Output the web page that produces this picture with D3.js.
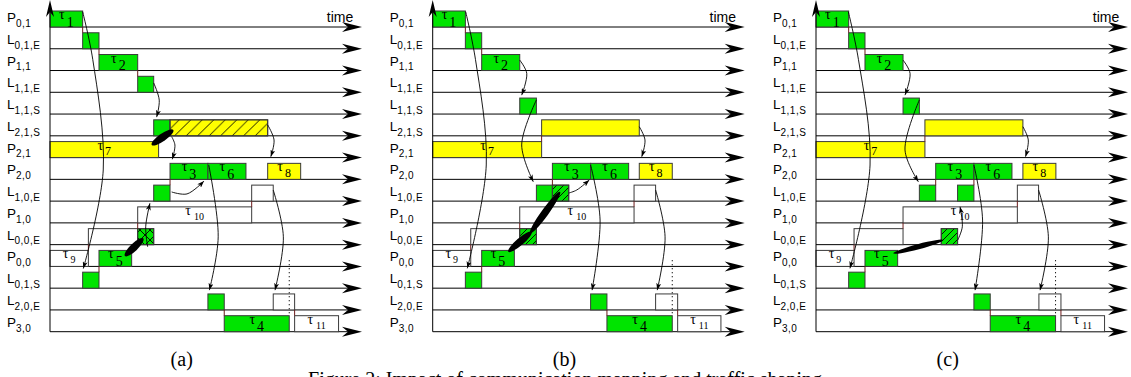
<!DOCTYPE html>
<html>
<head>
<meta charset="utf-8">
<script src="https://cdn.jsdelivr.net/npm/d3@7"></script>
<style>
  body { margin: 0; background: #fff; }
  svg { display: block; }
</style>
</head>
<body>
<svg id="chart" width="1131" height="377"></svg>
<script>
// row labels, top to bottom: [letter, subscript]
const rowLabels = [
  ["P", "0,1"], ["L", "0,1,E"], ["P", "1,1"], ["L", "1,1,E"], ["L", "1,1,S"],
  ["L", "2,1,S"], ["P", "2,1"], ["P", "2,0"], ["L", "1,0,E"], ["P", "1,0"],
  ["L", "0,0,E"], ["P", "0,0"], ["L", "0,1,S"], ["L", "2,0,E"], ["P", "3,0"]
];
const panelNames = ["(a)", "(b)", "(c)"];
const axisName = "time";
const caption = "Figure 2: Impact of communication mapping and traffic shaping";

// bars: [row, start, end, kind, task, hatch]   kind g = green, y = yellow, w = white
const barsA = [
  [0, 0, 2.0, "g", "1"], [1, 2.0, 3.0, "g"], [2, 3.0, 5.37, "g", "2"], [3, 5.37, 6.35, "g"],
  [5, 6.35, 7.35, "g"], [5, 7.35, 13.33, "y", null, "/"], [6, 0, 6.65, "y", "7"],
  [7, 7.35, 9.67, "g", "3"], [7, 9.67, 12.0, "g", "6"], [7, 13.33, 15.35, "y", "8"],
  [8, 6.35, 7.35, "g"], [8, 12.35, 13.67, "w"], [9, 5.37, 12.35, "w", "10"],
  [10, 2.35, 5.37, "w"], [10, 5.37, 6.35, "g", null, "x"],
  [11, 0, 2.35, "w", "9"], [11, 3.0, 5.0, "g", "5"], [12, 2.0, 3.0, "g"],
  [13, 9.67, 10.67, "g"], [13, 13.67, 14.98, "w"],
  [14, 10.67, 14.65, "g", "4"], [14, 14.98, 17.67, "w", "11"]
];
const barsB = [
  [0, 0, 2.0, "g", "1"], [1, 2.0, 3.0, "g"], [2, 3.0, 5.33, "g", "2"], [4, 5.33, 6.35, "g"],
  [5, 6.67, 12.65, "y"], [6, 0, 6.67, "y", "7"],
  [7, 7.33, 9.67, "g", "3"], [7, 9.67, 12.0, "g", "6"], [7, 12.65, 14.67, "y", "8"],
  [8, 6.35, 7.33, "g"], [8, 7.33, 8.33, "g", null, "/"], [8, 12.33, 13.65, "w"],
  [9, 5.33, 12.33, "w", "10"],
  [10, 2.33, 5.33, "w"], [10, 5.33, 6.35, "g", null, "/"],
  [11, 0, 2.33, "w", "9"], [11, 3.0, 5.0, "g", "5"], [12, 2.0, 3.0, "g"],
  [13, 9.67, 10.67, "g"], [13, 13.65, 15.0, "w"],
  [14, 10.67, 14.67, "g", "4"], [14, 15.0, 17.65, "w", "11"]
];
const barsC = [
  [0, 0, 2.0, "g", "1"], [1, 2.0, 3.0, "g"], [2, 3.0, 5.33, "g", "2"], [4, 5.33, 6.33, "g"],
  [5, 6.67, 12.67, "y"], [6, 0, 6.67, "y", "7"],
  [7, 7.33, 9.67, "g", "3"], [7, 9.67, 12.0, "g", "6"], [7, 12.67, 14.69, "y", "8"],
  [8, 6.33, 7.33, "g"], [8, 8.67, 9.67, "g"], [8, 12.33, 13.63, "w"],
  [9, 5.33, 12.33, "w", "10"],
  [10, 2.33, 5.33, "w"], [10, 7.67, 8.67, "g", null, "/"],
  [11, 0, 2.33, "w", "9"], [11, 3.0, 5.0, "g", "5"], [12, 2.0, 3.0, "g"],
  [13, 9.67, 10.67, "g"], [13, 13.65, 15.0, "w"],
  [14, 10.67, 14.67, "g", "4"], [14, 15.0, 17.67, "w", "11"]
];

// dependency arrows, points as [time, row]
const arrowsA = [
  [[2.0, -0.7], [2.62, 1.5], [3.26, 6.57], [2.04, 11.1]],
  [[6.35, 2.57], [6.69, 3.36], [6.53, 4.14]],
  [[13.33, 4.5], [13.72, 5.19], [13.52, 5.96]],
  [[7.45, 5.04], [7.65, 5.42], [7.49, 6.08]],
  [[7.45, 7.58], [8.39, 7.67], [9.43, 7.08]],
  [[5.98, 10.1], [5.86, 9.18], [6.12, 8.1]],
  [[9.72, 6.34], [10.3, 9.64], [9.76, 12.09]],
  [[13.67, 7.49], [14.29, 9.64], [13.78, 12.09]]
];
const arrowsB = [
  [[2.02, -0.7], [2.62, 1.5], [3.28, 6.34], [2.12, 11.09]],
  [[5.33, 1.52], [5.76, 2.13], [5.45, 3.13]],
  [[6.35, 3.35], [5.45, 5.42], [6.16, 7.11]],
  [[12.65, 4.58], [13.0, 5.19], [12.8, 5.96]],
  [[8.33, 7.63], [8.82, 7.49], [9.59, 7.03]],
  [[9.67, 6.34], [10.25, 8.87], [9.76, 12.09]],
  [[13.65, 7.49], [14.23, 9.64], [13.75, 12.09]]
];
const arrowsC = [
  [[1.98, -0.7], [2.6, 1.5], [3.31, 6.34], [2.08, 11.09]],
  [[5.33, 1.52], [5.76, 2.13], [5.45, 3.13]],
  [[6.33, 3.35], [5.45, 5.65], [6.27, 7.11]],
  [[12.67, 4.58], [13.0, 5.19], [12.83, 5.96]],
  [[8.68, 9.79], [8.96, 9.18], [8.82, 8.26]],
  [[9.67, 6.34], [10.2, 8.87], [9.74, 12.09]],
  [[13.63, 7.49], [14.23, 9.64], [13.72, 12.09]]
];

// contention marks: [t1, row1, t2, row2]
const blobsA = [[6.23, 5.42, 7.55, 4.73], [4.59, 10.52, 5.71, 9.71]];
const blobsB = [[4.63, 10.33, 6.06, 9.41], [5.96, 9.48, 7.8, 7.57]];
const blobsC = [[4.73, 10.4, 7.8, 9.79]];

// dotted deadline mark: [time, row from, row to]
const markA = [14.65, 10.71, 13.24];
const markB = [14.67, 10.71, 13.24];
const markC = [14.67, 10.71, 13.24];

const panels = [
  { bars: barsA, arrows: arrowsA, blobs: blobsA, mark: markA },
  { bars: barsB, arrows: arrowsB, blobs: blobsB, mark: markB },
  { bars: barsC, arrows: arrowsC, blobs: blobsC, mark: markC }
];

const svg = d3.select("#chart");
const panelX = [50, 432.7, 816];
const span = 312;
const boxH = 16;
const blobWidth = [3.8, 3.6, 2.6];

const y = d3.scaleLinear().domain([0, rowLabels.length - 1]).range([27, 331.7]);
const fill = d3.scaleOrdinal().domain(["g", "y", "w"]).range(["#00e400", "#ffff00", "#ffffff"]);
const subSize = d3.scaleOrdinal().domain(["g", "y", "w"]).range([14, 12, 10]);
const subDy = d3.scaleOrdinal().domain(["g", "y", "w"]).range([7.5, 5.5, 5]);

const defs = svg.append("defs");

function hatch(id, size, cross) {
  const p = defs.append("pattern")
    .attr("id", id)
    .attr("patternUnits", "userSpaceOnUse")
    .attr("width", size).attr("height", size);
  let d = `M${-size},${size} L${size},${-size} M0,${size} L${size},0 M0,${2 * size} L${2 * size},0`;
  if (cross) d += ` M0,0 L${size},${size} M${-size},0 L${size},${2 * size} M0,${-size} L${2 * size},${size}`;
  p.append("path").attr("d", d).attr("stroke", "#000").attr("stroke-width", 0.9).attr("fill", "none");
}
hatch("hatchWide", 11.5, false);
hatch("hatchNarrow", 7, false);
hatch("hatchCross", 10, true);

defs.append("marker")
  .attr("id", "head")
  .attr("viewBox", "0 0 7 5")
  .attr("refX", 7).attr("refY", 2.5)
  .attr("markerWidth", 7).attr("markerHeight", 5)
  .attr("markerUnits", "userSpaceOnUse")
  .attr("orient", "auto")
  .append("path").attr("d", "M0,0 L7,2.5 L0,5 L1.8,2.5 Z").attr("fill", "#000");

panels.forEach((panel, pi) => {
  const x0 = panelX[pi];
  const x = d3.scaleLinear().domain([0, span / 16.33]).range([x0, x0 + span]);
  const g = svg.append("g");

  // row lines with arrowheads
  rowLabels.forEach((lab, i) => {
    const yy = y(i);
    g.append("line")
      .attr("x1", x0).attr("x2", x0 + span - 6)
      .attr("y1", yy).attr("y2", yy)
      .attr("stroke", "#000").attr("stroke-width", 1);
    const xe = x0 + span;
    g.append("path")
      .attr("d", `M${xe},${yy} L${xe - 20},${yy - 5} L${xe - 14},${yy} L${xe - 20},${yy + 5} Z`)
      .attr("fill", "#000");

    const t = g.append("text")
      .attr("x", x0 - 43).attr("y", yy - 5)
      .attr("font-family", "Liberation Sans, Arial, sans-serif")
      .attr("font-size", 13.5)
      .attr("fill", "#000");
    t.append("tspan").text(lab[0]);
    t.append("tspan").attr("dy", 4.8).attr("font-size", 10).attr("letter-spacing", 0.5).text(lab[1]);
  });

  // bars
  const bars = panel.bars.map(b => ({ row: b[0], start: b[1], end: b[2], kind: b[3], task: b[4], hatch: b[5] }));

  g.selectAll(".bar").data(bars).enter().append("rect")
    .attr("class", "bar")
    .attr("x", d => x(d.start))
    .attr("y", d => y(d.row) - boxH)
    .attr("width", d => x(d.end) - x(d.start))
    .attr("height", boxH)
    .attr("fill", d => fill(d.kind))
    .attr("stroke", "#3a3a3a").attr("stroke-width", 1);

  g.selectAll(".hatch").data(bars.filter(d => d.hatch)).enter().append("rect")
    .attr("class", "hatch")
    .attr("x", d => x(d.start))
    .attr("y", d => y(d.row) - boxH)
    .attr("width", d => x(d.end) - x(d.start))
    .attr("height", boxH)
    .attr("fill", d => d.hatch === "x" ? "url(#hatchCross)" : (d.kind === "y" ? "url(#hatchWide)" : "url(#hatchNarrow)"))
    .attr("stroke", "#3a3a3a").attr("stroke-width", 1);

  // step connectors between adjacent rows
  const links = [];
  bars.forEach(a => bars.forEach(b => {
    if (b.row !== a.row + 1) return;
    if (Math.abs(a.end - b.start) < 0.05) links.push({ t: a.end, row: a.row });
    else if (Math.abs(a.start - b.end) < 0.05) links.push({ t: a.start, row: a.row });
  }));
  g.selectAll(".link").data(links).enter().append("line")
    .attr("x1", d => x(d.t)).attr("x2", d => x(d.t))
    .attr("y1", d => y(d.row)).attr("y2", d => y(d.row + 1) - boxH)
    .attr("stroke", "#6b1a1a").attr("stroke-width", 1);

  // task labels
  const lbl = g.selectAll(".lbl").data(bars.filter(d => d.task)).enter().append("text")
    .attr("class", "lbl")
    .attr("x", d => (x(d.start) + x(d.end)) / 2)
    .attr("y", d => y(d.row) - boxH + 8)
    .attr("text-anchor", "middle")
    .attr("font-family", "Liberation Serif, Times New Roman, serif")
    .attr("fill", "#000");
  lbl.append("tspan").attr("font-size", 14).text("τ");
  lbl.append("tspan")
    .attr("dx", d => d.task.length > 1 ? 3 : 2)
    .attr("dy", d => d.task.length > 1 ? 5 : subDy(d.kind))
    .attr("font-size", d => d.task.length > 1 ? 10 : subSize(d.kind))
    .text(d => d.task);

  // dotted mark
  g.append("line")
    .attr("x1", x(panel.mark[0])).attr("x2", x(panel.mark[0]))
    .attr("y1", y(panel.mark[1])).attr("y2", y(panel.mark[2]))
    .attr("stroke", "#000").attr("stroke-width", 1).attr("stroke-dasharray", "1.2,2.8");

  // dependency arrows
  const line = d3.line().x(d => x(d[0])).y(d => y(d[1])).curve(d3.curveCatmullRom.alpha(0.5));
  g.selectAll(".arr").data(panel.arrows).enter().append("path")
    .attr("class", "arr")
    .attr("d", line)
    .attr("fill", "none").attr("stroke", "#000").attr("stroke-width", 0.9)
    .attr("marker-end", "url(#head)");

  // contention blobs
  panel.blobs.forEach(b => {
    const ax = x(b[0]), ay = y(b[1]), bx = x(b[2]), by = y(b[3]);
    const len = Math.hypot(bx - ax, by - ay);
    const ang = Math.atan2(by - ay, bx - ax) * 180 / Math.PI;
    g.append("ellipse")
      .attr("cx", 0).attr("cy", 0)
      .attr("rx", len / 2).attr("ry", blobWidth[pi])
      .attr("transform", `translate(${(ax + bx) / 2},${(ay + by) / 2}) rotate(${ang})`)
      .attr("fill", "#000");
  });

  // vertical axis
  g.append("line")
    .attr("x1", x0).attr("x2", x0)
    .attr("y1", y(rowLabels.length - 1)).attr("y2", 8)
    .attr("stroke", "#000").attr("stroke-width", 1);
  g.append("path")
    .attr("d", `M${x0},0 L${x0 + 4},17 L${x0},12 L${x0 - 4},17 Z`)
    .attr("fill", "#000");

  g.append("text")
    .attr("x", x0 + 303.3).attr("y", 21.7)
    .attr("text-anchor", "end")
    .attr("font-family", "Liberation Sans, Arial, sans-serif")
    .attr("font-size", 14)
    .text(axisName);

  g.append("text")
    .attr("x", x0 + 131.7).attr("y", 366)
    .attr("text-anchor", "middle")
    .attr("font-family", "Liberation Serif, Times New Roman, serif")
    .attr("font-size", 20)
    .text(panelNames[pi]);
});

svg.append("text")
  .attr("x", 565).attr("y", 386)
  .attr("text-anchor", "middle")
  .attr("font-family", "Liberation Serif, Times New Roman, serif")
  .attr("font-size", 20)
  .text(caption);
</script>
</body>
</html>
